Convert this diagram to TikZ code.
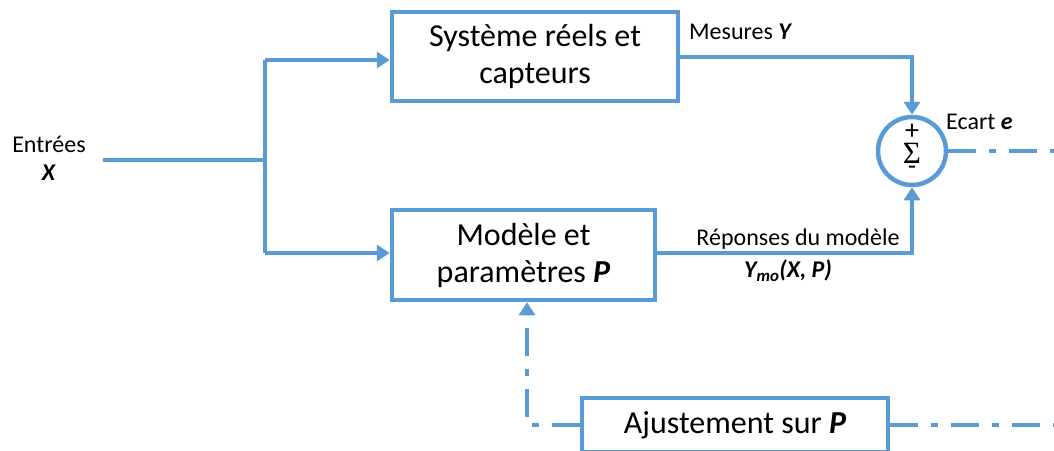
\documentclass[tikz,border=0pt]{standalone}
\usepackage{fontspec}
\setmainfont{Carlito}
\newfontfamily\serifS{Liberation Serif}
\usetikzlibrary{arrows.meta}
\definecolor{bl}{HTML}{5B9BD5}
\tikzset{
  blk/.style={draw=bl, line width=4.5pt, fill=white, align=center, font=\fontsize{32}{37}\selectfont, inner sep=0pt},
  wire/.style={draw=bl, line width=4.5pt},
  arr/.style={wire, -{Triangle[width=16pt,length=13pt]}},
  dd/.style={wire, dash pattern=on 28pt off 13pt on 7pt off 13pt},
  lbl/.style={font=\fontsize{24}{28}\selectfont, inner sep=0pt},
}
\begin{document}
\begin{tikzpicture}[x=1pt,y=-1pt]
\useasboundingbox (0,0) rectangle (1054,450);
\node[blk, minimum width=286pt, minimum height=89pt] (sys) at (535,56.5) {Système réels et\\capteurs};
\node[blk, minimum width=263pt, minimum height=90pt] (mod) at (523.5,255) {Modèle et\\paramètres \textbf{\textit{P}}};
\node[blk, minimum width=306pt, minimum height=54pt] (aju) at (735,425) {Ajustement sur \textbf{\textit{P}}};
\node[draw=bl, line width=4.5pt, circle, minimum size=68pt, inner sep=0pt] (sum) at (912,151) {};
\node[inner sep=0pt, anchor=south, font=\fontsize{28}{28}\selectfont] (plus) at (912,139.5) {+};
\node[inner sep=0pt, anchor=north, font=\serifS\fontsize{31}{31}\selectfont] (sig) at (912,143) {Σ};
\node[inner sep=0pt, anchor=north, font=\fontsize{26}{26}\selectfont] (minus) at (912,166.5) {-};
\node[lbl, align=center] (inp) at (49,158) {Entrées\\\textbf{\textit{X}}};
\coordinate (in0) at (103,160);
\coordinate (br) at (265,160);
\coordinate (brt) at (265,60);
\coordinate (brb) at (265,253);
\draw[wire] (in0) -- (br);
\draw[wire] (brt) -- (brb);
\draw[arr] (brt) -- (sys.west |- brt);
\draw[arr] (brb) -- (mod.west |- brb);
\coordinate (ct) at (912,57);
\coordinate (cb) at (912,253);
\draw[arr] (sys.east |- ct) -- (ct) -- (sum.north);
\draw[arr] (mod.east |- cb) -- (cb) -- (sum.south);
\node[lbl, anchor=south west] (mes) at (689,40) {Mesures \textbf{\textit{Y}}};
\node[lbl, anchor=west] (ec) at (946,122) {Ecart \textbf{\textit{e}}};
\node[lbl, anchor=south] (rep) at (798,250) {Réponses du modèle};
\node[lbl, anchor=north] (ymo) at (788,260) {\textbf{\textit{Y\textsubscript{mo}}\textit{(X, P)}}};
\coordinate (eR) at (1054,151);
\draw[dd] (sum.east) -- (eR);
\coordinate (aR) at (1054,425);
\draw[dd] (aju.east) -- (aR);
\coordinate (aL) at (527,425);
\draw[dd, -{Triangle[width=16pt,length=13pt]}] (aju.west) -- (aL) -- (mod.south -| aL);
\end{tikzpicture}
\end{document}
